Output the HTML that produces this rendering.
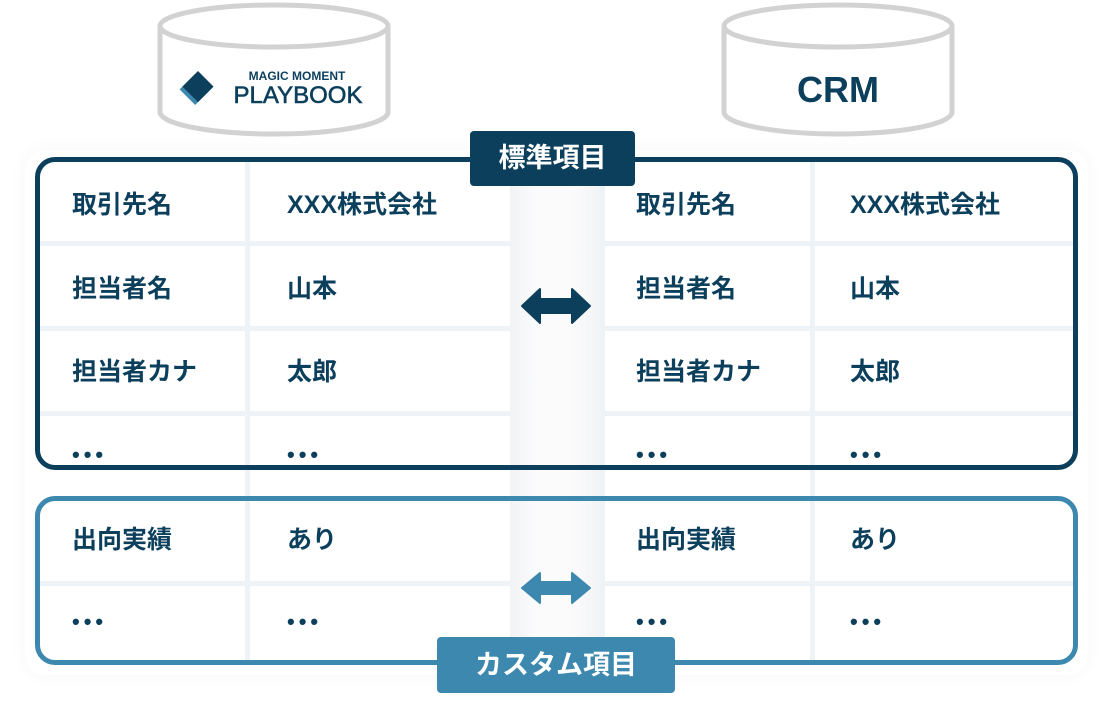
<!DOCTYPE html>
<html><head><meta charset="utf-8"><style>
body{margin:0;width:1111px;height:701px;background:#fff;position:relative;overflow:hidden;font-family:"Liberation Sans","Noto Sans CJK JP",sans-serif;}
.a{position:absolute}
.c{position:absolute;background:#fff}
.t{position:absolute;color:#0c3f5c;font-weight:bold;font-size:25px;line-height:30px;white-space:nowrap}
.d{letter-spacing:4px;font-size:22px}
</style></head><body>
<svg class="a" style="left:0;top:0" width="1111" height="701">
 <g fill="#fff" stroke="#d2d2d2" stroke-width="5">
  <path d="M160 26 V112 A114 22 0 0 0 388 112 V26"/>
  <ellipse cx="274" cy="26" rx="114" ry="21"/>
  <path d="M724 26 V112 A114 22 0 0 0 952 112 V26"/>
  <ellipse cx="838" cy="26" rx="114" ry="21"/>
 </g>
 <g transform="translate(198,88) rotate(45)">
  <rect x="-12" y="-8" width="22" height="22" fill="#3d88ae"/>
  <rect x="-12" y="-12" width="22" height="22" fill="#0c3f5c"/>
 </g>
 <text x="297" y="80" font-family="Liberation Sans" font-weight="bold" font-size="12" fill="#0c3f5c" text-anchor="middle">MAGIC MOMENT</text>
 <text x="298" y="103" font-family="Liberation Sans" font-size="24" fill="#0c3f5c" text-anchor="middle" stroke="#0c3f5c" stroke-width="0.6">PLAYBOOK</text>
 <text x="838" y="102" font-family="Liberation Sans" font-weight="bold" font-size="36" fill="#0c3f5c" text-anchor="middle">CRM</text>
</svg>
<div class="a" style="left:25px;top:150px;width:1063px;height:525px;box-shadow:0 0 18px rgba(0,0,0,.04);border-radius:20px"></div>
<div class="a" style="left:40px;top:162px;width:1033px;height:498px;background:#eef3f7"></div>
<div class="a" style="left:510px;top:162px;width:90px;height:498px;background:linear-gradient(90deg,#f1f3f5,#fbfbfc 30%,#fbfbfc 70%,#f1f3f5)"></div>
<div class="c" style="left:40px;top:162px;width:205px;height:79px"></div>
<div class="c" style="left:250px;top:162px;width:260px;height:79px"></div>
<div class="c" style="left:605px;top:162px;width:205px;height:79px"></div>
<div class="c" style="left:815px;top:162px;width:258px;height:79px"></div>
<div class="c" style="left:40px;top:246px;width:205px;height:80px"></div>
<div class="c" style="left:250px;top:246px;width:260px;height:80px"></div>
<div class="c" style="left:605px;top:246px;width:205px;height:80px"></div>
<div class="c" style="left:815px;top:246px;width:258px;height:80px"></div>
<div class="c" style="left:40px;top:331px;width:205px;height:80px"></div>
<div class="c" style="left:250px;top:331px;width:260px;height:80px"></div>
<div class="c" style="left:605px;top:331px;width:205px;height:80px"></div>
<div class="c" style="left:815px;top:331px;width:258px;height:80px"></div>
<div class="c" style="left:40px;top:416px;width:205px;height:165px"></div>
<div class="c" style="left:250px;top:416px;width:260px;height:165px"></div>
<div class="c" style="left:605px;top:416px;width:205px;height:165px"></div>
<div class="c" style="left:815px;top:416px;width:258px;height:165px"></div>
<div class="c" style="left:40px;top:586px;width:205px;height:74px"></div>
<div class="c" style="left:250px;top:586px;width:260px;height:74px"></div>
<div class="c" style="left:605px;top:586px;width:205px;height:74px"></div>
<div class="c" style="left:815px;top:586px;width:258px;height:74px"></div>
<div class="a" style="left:35px;top:157px;width:1033px;height:303px;border:5px solid #0c3f5c;border-radius:20px"></div>
<div class="a" style="left:35px;top:496px;width:1033px;height:159px;border:5px solid #3d88ae;border-radius:20px"></div>
<div class="a" style="left:470px;top:131px;width:165px;height:55px;background:#0c3f5c;border-radius:4px;color:#fff;font-weight:bold;font-size:27px;line-height:55px;text-align:center">標準項目</div>
<div class="a" style="left:437px;top:637px;width:238px;height:56px;background:#3d88ae;border-radius:4px;color:#fff;font-weight:bold;font-size:27px;line-height:56px;text-align:center">カスタム項目</div>
<svg class="a" style="left:0;top:0" width="1111" height="701">
 <path d="M522 306 L540 289 V299 H572 V289 L590 306 L572 323 V313 H540 V323 Z" fill="#0c3f5c" stroke="#0c3f5c" stroke-width="2" stroke-linejoin="round"/>
 <path d="M522 588 L540 573 V582 H572 V573 L590 588 L572 603 V594 H540 V603 Z" fill="#3d88ae" stroke="#3d88ae" stroke-width="2" stroke-linejoin="round"/>
</svg>
<div class="t" style="left:72px;top:190px">取引先名</div><div class="t" style="left:287px;top:190px">XXX株式会社</div>
<div class="t" style="left:636px;top:190px">取引先名</div><div class="t" style="left:850px;top:190px">XXX株式会社</div>
<div class="t" style="left:72px;top:274px">担当者名</div><div class="t" style="left:287px;top:274px">山本</div>
<div class="t" style="left:636px;top:274px">担当者名</div><div class="t" style="left:850px;top:274px">山本</div>
<div class="t" style="left:72px;top:357px">担当者カナ</div><div class="t" style="left:287px;top:357px">太郎</div>
<div class="t" style="left:636px;top:357px">担当者カナ</div><div class="t" style="left:850px;top:357px">太郎</div>
<div class="t d" style="left:72px;top:440px">•••</div><div class="t d" style="left:287px;top:440px">•••</div>
<div class="t d" style="left:636px;top:440px">•••</div><div class="t d" style="left:850px;top:440px">•••</div>
<div class="t" style="left:72px;top:525px">出向実績</div><div class="t" style="left:287px;top:525px">あり</div>
<div class="t" style="left:636px;top:525px">出向実績</div><div class="t" style="left:850px;top:525px">あり</div>
<div class="t d" style="left:72px;top:607px">•••</div><div class="t d" style="left:287px;top:607px">•••</div>
<div class="t d" style="left:636px;top:607px">•••</div><div class="t d" style="left:850px;top:607px">•••</div>
</body></html>
